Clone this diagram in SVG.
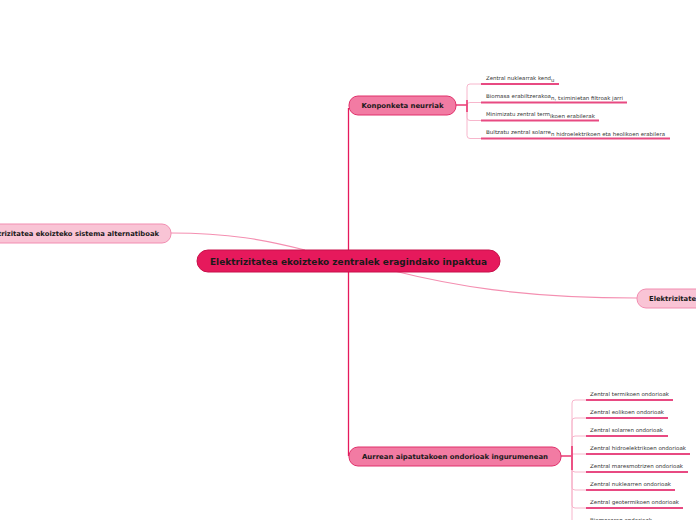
<svg xmlns="http://www.w3.org/2000/svg" width="696" height="520" viewBox="0 0 696 520">
<style>
.main{fill:#e6195c;stroke:#c8104a;stroke-width:1}
.sub{fill:#f27ba3;stroke:#e0306a;stroke-width:1}
.alt{fill:#f9c4d5;stroke:#f28db1;stroke-width:1}
.t{font-family:"DejaVu Sans",Verdana,sans-serif;font-weight:bold;fill:#1a1a1a}
.c{font-family:"DejaVu Sans",Verdana,sans-serif;fill:#333;font-size:5.3px}
.ul{stroke:#e84a82;stroke-width:2;fill:none}
.br{stroke:#f7b6cc;stroke-width:1;fill:none}
.trunk{stroke:#e6195c;stroke-width:1.3;fill:none}
.soft{stroke:#f48fb1;stroke-width:1.2;fill:none}
</style>
<rect width="696" height="520" fill="#ffffff"/>
<g id="connectors">
<path class="trunk" d="M348.5,261 V108"/>
<path class="trunk" d="M348.5,261 V456"/>
<path class="soft" d="M171,233 C230,233 265,240 305,250"/>
<path class="soft" d="M390,270 C450,285 520,298 637,298"/>
<path class="trunk" stroke-width="2" d="M456,105 H467"/>
<path class="trunk" stroke-width="2" d="M561,456 H572"/>
<path class="br" d="M467,105 V87 Q467,84 470,84 H481"/>
<path class="br" d="M467,105 V105 Q467,102.5 470,102.5 H481"/>
<path class="br" d="M467,105 V117.5 Q467,120.5 470,120.5 H481"/>
<path class="br" d="M467,105 V135.5 Q467,138.5 470,138.5 H481"/>
<path class="br" d="M572,456 V403 Q572,400 575,400 H586"/>
<path class="br" d="M572,456 V421 Q572,418 575,418 H586"/>
<path class="br" d="M572,456 V439 Q572,436 575,436 H586"/>
<path class="br" d="M572,456 V454 H586"/>
<path class="br" d="M572,456 V469 Q572,472 575,472 H586"/>
<path class="br" d="M572,456 V487 Q572,490 575,490 H586"/>
<path class="br" d="M572,456 V505 Q572,508 575,508 H586"/>
<path class="br" d="M572,456 V523 Q572,526 575,526 H586"/>
<path class="trunk" stroke-width="1.2" d="M467,100 V112"/>
<path class="trunk" stroke-width="1.2" d="M572,446 V470"/>
</g>
<g id="central">
<rect class="main" x="197" y="250" width="303" height="22" rx="11"/>
<text class="t" x="348.5" y="264.5" font-size="8.8" text-anchor="middle" textLength="277" lengthAdjust="spacingAndGlyphs">Elektrizitatea ekoizteko zentralek eragindako inpaktua</text>
</g>
<g id="konponketa">
<rect class="sub" x="349" y="96" width="107" height="19" rx="9"/>
<text class="t" x="402.5" y="108" font-size="6.8" text-anchor="middle" textLength="82" lengthAdjust="spacingAndGlyphs">Konponketa neurriak</text>
</g>
<g id="aurrean">
<rect class="sub" x="349" y="447" width="212" height="19" rx="9"/>
<text class="t" x="455" y="459" font-size="6.8" text-anchor="middle" textLength="186" lengthAdjust="spacingAndGlyphs">Aurrean aipatutakoen ondorioak ingurumenean</text>
</g>
<g id="alternatiboak">
<rect class="alt" x="-60" y="224" width="231" height="19" rx="9"/>
<text class="t" x="159" y="236" font-size="6.8" text-anchor="end">Elektrizitatea ekoizteko sistema alternatiboak</text>
</g>
<g id="elektrizitatea-right">
<rect class="alt" x="637" y="289" width="120" height="19" rx="9"/>
<text class="t" x="649" y="301" font-size="6.8">Elektrizitatea</text>
</g>
<g id="k1">
<text class="c" x="486" y="80"><tspan textLength="65" lengthAdjust="spacingAndGlyphs">Zentral nuklearrak kend</tspan><tspan dy="1.5">u</tspan></text>
<path class="ul" d="M481,84 H559"/>
</g>
<g id="k2">
<text class="c" x="486" y="98"><tspan textLength="65" lengthAdjust="spacingAndGlyphs">Biomasa erabiltzerakoa</tspan><tspan x="551" dy="1.5" textLength="72" lengthAdjust="spacingAndGlyphs">n, tximinietan filtroak jarri</tspan></text>
<path class="ul" d="M481,102.5 H627"/>
</g>
<g id="k3">
<text class="c" x="486" y="116"><tspan textLength="64" lengthAdjust="spacingAndGlyphs">Minimizatu zentral term</tspan><tspan x="550" dy="1.5" textLength="45" lengthAdjust="spacingAndGlyphs">ikoen erabilerak</tspan></text>
<path class="ul" d="M481,120.5 H599"/>
</g>
<g id="k4">
<text class="c" x="486" y="134"><tspan textLength="65" lengthAdjust="spacingAndGlyphs">Bultzatu zentral solarre</tspan><tspan x="551" dy="1.5" textLength="114" lengthAdjust="spacingAndGlyphs">n hidroelektrikoen eta heolikoen erabilera</tspan></text>
<path class="ul" d="M481,138.5 H670"/>
</g>
<g id="o1">
<text class="c" x="590" y="396" textLength="79" lengthAdjust="spacingAndGlyphs">Zentral termikoen ondorioak</text>
<path class="ul" d="M586,400 H673"/>
</g>
<g id="o2">
<text class="c" x="590" y="414" textLength="74" lengthAdjust="spacingAndGlyphs">Zentral eolikoen ondorioak</text>
<path class="ul" d="M586,418 H668"/>
</g>
<g id="o3">
<text class="c" x="590" y="432" textLength="73" lengthAdjust="spacingAndGlyphs">Zentral solarren ondorioak</text>
<path class="ul" d="M586,436 H668"/>
</g>
<g id="o4">
<text class="c" x="590" y="450" textLength="96" lengthAdjust="spacingAndGlyphs">Zentral hidroelektrikoen ondorioak</text>
<path class="ul" d="M586,454 H690"/>
</g>
<g id="o5">
<text class="c" x="590" y="468" textLength="93" lengthAdjust="spacingAndGlyphs">Zentral maresmotrizen ondorioak</text>
<path class="ul" d="M586,472 H688"/>
</g>
<g id="o6">
<text class="c" x="590" y="486" textLength="81" lengthAdjust="spacingAndGlyphs">Zentral nuklearren ondorioak</text>
<path class="ul" d="M586,490 H675"/>
</g>
<g id="o7">
<text class="c" x="590" y="504" textLength="89" lengthAdjust="spacingAndGlyphs">Zentral geotermikoen ondorioak</text>
<path class="ul" d="M586,508 H683"/>
</g>
<g id="o8">
<text class="c" x="590" y="522" textLength="62" lengthAdjust="spacingAndGlyphs">Biomasaren ondorioak</text>
<path class="ul" d="M586,526 H660"/>
</g>
</svg>
